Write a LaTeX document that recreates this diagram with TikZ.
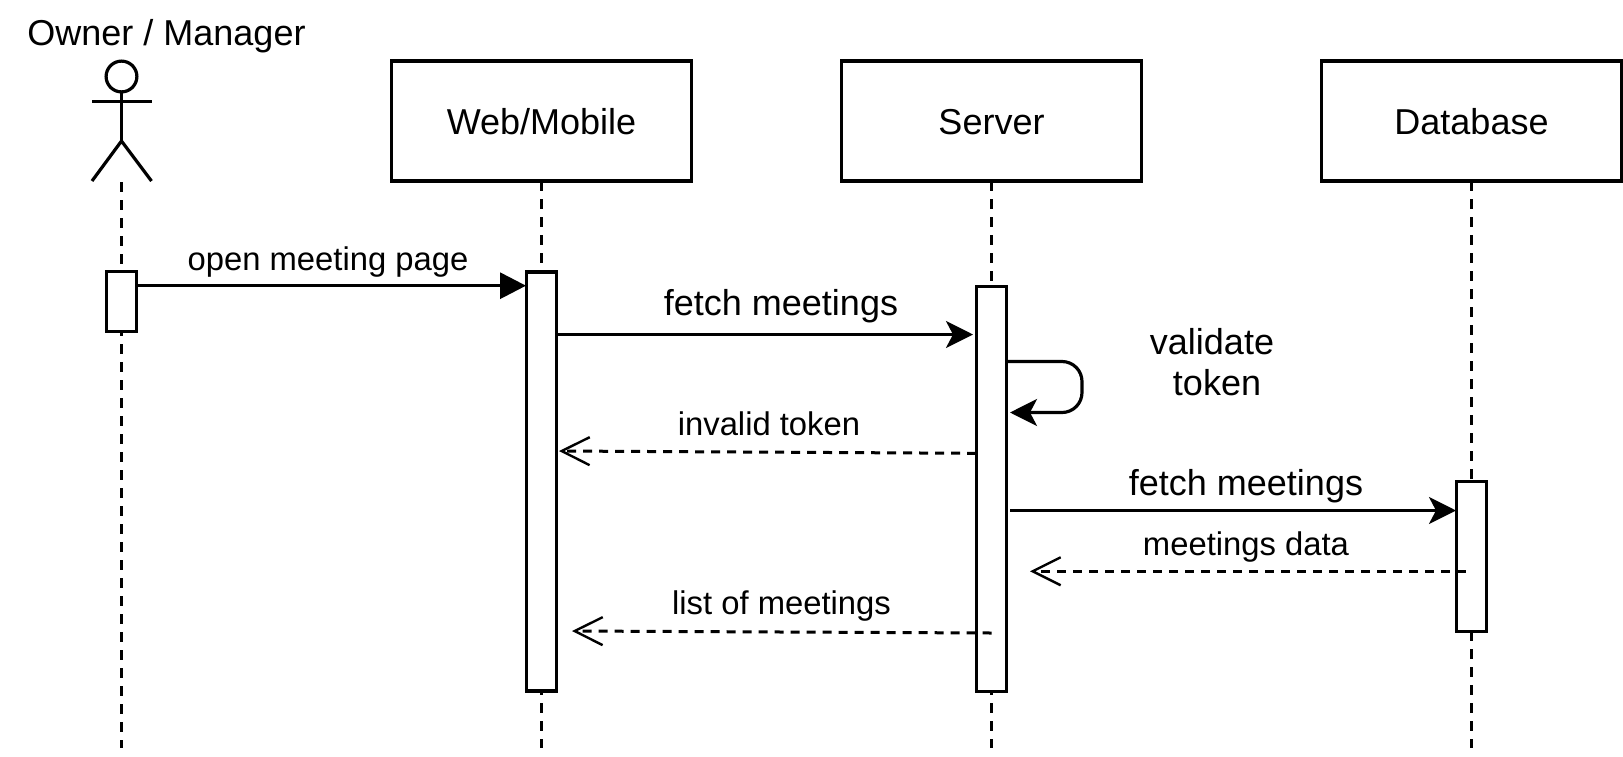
\documentclass[tikz,border=0pt]{standalone}
\usepackage{fontspec}
\setmainfont{Liberation Sans}
\usepackage{xcolor}
\usepackage{tikz}
\usetikzlibrary{arrows.meta, positioning, calc}

\tikzset{
    every node/.style={inner sep=0pt, outer sep=0pt},
    partbox/.style={draw, line width=1.6pt, fill=white, minimum width=150pt, minimum height=60pt, text height=13pt, text depth=0pt, font=\fontsize{18}{21}\selectfont},
    activebox/.style={draw, line width=1.6pt, fill=white, minimum width=15pt},
    lifeline/.style={line width=1.2pt, dash pattern=on 5pt off 4pt},
    bigtext/.style={font=\fontsize{18}{20.7}\selectfont, align=center},
    smalltext/.style={font=\fontsize{16.4}{19}\selectfont},
    callarrow/.style={line width=1.6pt, -{Stealth[length=13.5pt, width=13.5pt, inset=3.5pt]}},
    openarrow/.style={line width=1.6pt, -{Triangle[length=13pt, width=13pt]}},
    replyarrow/.style={line width=1.5pt, dash pattern=on 4.5pt off 3.5pt, -{Straight Barb[length=14pt, width=14pt, line width=1.2pt]}},
}

\begin{document}
\begin{tikzpicture}[x=0.5pt, y=-0.5pt]
    \useasboundingbox (0,0) rectangle (1623,756);

    \node[bigtext] (ownerLabel) at (166.5,36.5) {Owner / Manager};

    % actor
    \node[draw, circle, line width=1.6pt, minimum size=15.4pt] (actorHead) at (121.5,76.5) {};
    \coordinate (actorNeck) at (121.5,141);
    \coordinate (armL) at (92,101.5);
    \coordinate (armR) at (151.5,101.5);
    \coordinate (footL) at (92,181);
    \coordinate (footR) at (151.5,181);
    \coordinate (actorFeet) at (121.5,182);
    \draw[line width=1.6pt] (actorHead) -- (actorNeck);
    \draw[line width=1.6pt] (armL) -- (armR);
    \draw[line width=1.6pt] (footL) -- (actorNeck) -- (footR);

    \node[partbox] (webBox) at (541.5,121) {Web/Mobile};
    \node[partbox] (serverBox) at (991.5,121) {Server};
    \node[partbox] (dbBox) at (1471.5,121) {Database};

    \coordinate (ownerEnd) at (121.5,748);
    \coordinate (webEnd) at (541.5,748);
    \coordinate (serverEnd) at (991.5,748);
    \coordinate (dbEnd) at (1471.5,748);

    \draw[lifeline] (actorFeet) -- (ownerEnd);
    \draw[lifeline] (webBox.south) -- (webEnd);
    \draw[lifeline] (serverBox.south) -- (serverEnd);
    \draw[lifeline] (dbBox.south) -- (dbEnd);

    \node[activebox, minimum height=30pt] (ownerAct) at (121.5,301.5) {};
    \node[activebox, minimum height=209.5pt] (webAct) at (541.5,481.5) {};
    \node[activebox, minimum height=202.5pt] (serverAct) at (991.5,488.75) {};
    \node[activebox, minimum height=75pt] (dbAct) at (1471.5,556.5) {};

    % calls
    \coordinate (openFrom) at (136.5,285.7);
    \coordinate (openTo) at (526,285.7);
    \draw[openarrow] (openFrom) -- (openTo);
    \node[smalltext] (openLabel) at (328,262) {open meeting page};

    \coordinate (fetchFrom) at (557,334.5);
    \coordinate (fetchTo) at (973,334.5);
    \draw[callarrow] (fetchFrom) -- (fetchTo);
    \node[bigtext] (fetchLabel) at (781,306) {fetch meetings};

    \coordinate (loopFrom) at (1007,361.5);
    \coordinate (loopRight) at (1082,361.5);
    \coordinate (loopDown) at (1082,412.5);
    \coordinate (loopTo) at (1010,412.5);
    \draw[callarrow, rounded corners=10pt] (loopFrom) -- (loopRight) -- (loopDown) -- (loopTo);
    \node[bigtext] (loopLabel) at (1212,362) {validate\\\hspace*{5pt}token};

    \coordinate (invalidFrom) at (976,453.3);
    \coordinate (invalidTo) at (559,451);
    \draw[replyarrow] (invalidFrom) -- (invalidTo);
    \node[smalltext] (invalidLabel) at (769,424) {invalid token};

    \coordinate (dbFrom) at (1010,510.5);
    \coordinate (dbTo) at (1456,510.5);
    \draw[callarrow] (dbFrom) -- (dbTo);
    \node[bigtext] (dbLabel) at (1246,486) {fetch meetings};

    \coordinate (dataFrom) at (1465.5,571.3);
    \coordinate (dataTo) at (1030,571.3);
    \draw[replyarrow] (dataFrom) -- (dataTo);
    \node[smalltext] (dataLabel) at (1246,547) {meetings data};

    \coordinate (listFrom) at (991.5,633);
    \coordinate (listTo) at (572,631);
    \draw[replyarrow] (listFrom) -- (listTo);
    \node[smalltext] (listLabel) at (781.5,606) {list of meetings};
\end{tikzpicture}
\end{document}
